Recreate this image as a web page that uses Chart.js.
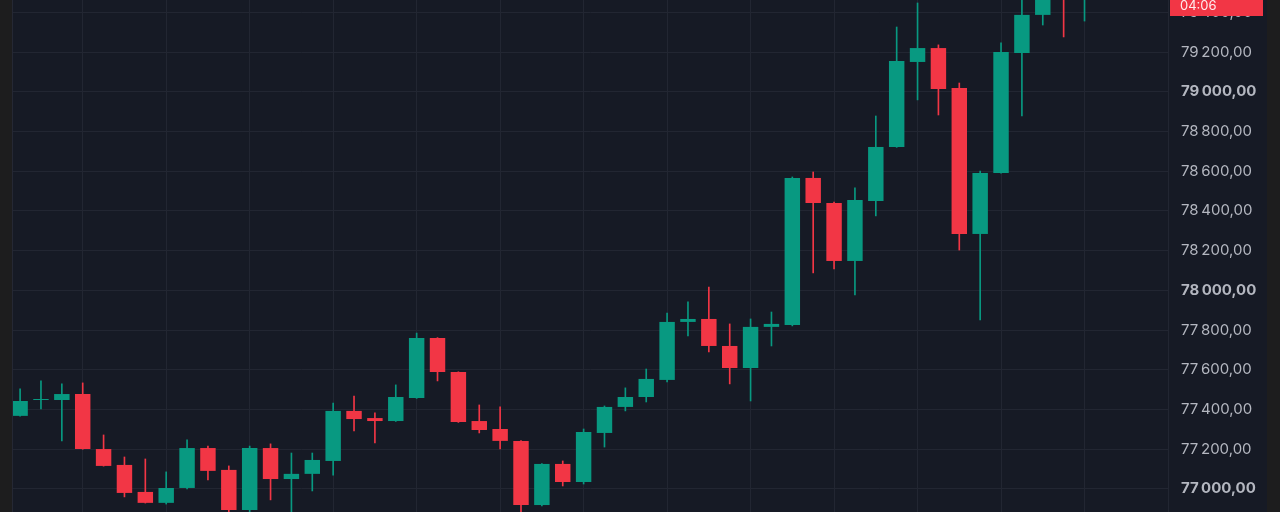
<!DOCTYPE html>
<html>
<head>
<meta charset="utf-8">
<script src="https://cdn.jsdelivr.net/npm/chart.js@4.4.0/dist/chart.umd.min.js"></script>
<style>
    html, body { margin:0; padding:0; width:1280px; height:512px; overflow:hidden; background:#1d1d1e; }
    #wrap { position:absolute; left:12px; top:0; width:1255px; height:512px; background:#161a25; border-left:1px solid #252834; box-sizing:border-box; }
    #candle_graph { display:block; }
</style>
</head>
<body>
<div id="wrap"><canvas id="candle_graph" width="1254" height="512"></canvas></div>
<script>
// candle index (no time labels visible in the picture)
const candle_labels = [ 0, 1, 2, 3, 4, 5, 6, 7, 8, 9,10,11,12,13,14,15,16,17,18,19,20,21,22,23,24,25,
                       26,27,28,29,30,31,32,33,34,35,36,37,38,39,40,41,42,43,44,45,46,47,48,49,50,51];

const open_prices  = [77368, 77448, 77448, 77478, 77201, 77121, 76985, 76930, 77005, 77206,
                      77096, 76894, 77206, 77050, 77076, 77141, 77393, 77357, 77342, 77458,
                      77760, 77589, 77342, 77302, 77242, 76919, 77126, 77035, 77282, 77413,
                      77463, 77549, 77841, 77856, 77720, 77609, 77816, 77826, 78566, 78440,
                      78148, 78450, 78722, 79150, 79220, 79019, 78284, 78591, 79195, 79387,
                      79610, 79490];
const high_prices  = [77504, 77544, 77529, 77534, 77272, 77161, 77151, 77086, 77247, 77216,
                      77116, 77216, 77227, 77181, 77181, 77433, 77468, 77383, 77524, 77785,
                      77762, 77590, 77423, 77413, 77244, 77128, 77141, 77302, 77418, 77509,
                      77604, 77886, 77942, 78017, 77831, 77856, 77891, 78571, 78596, 78445,
                      78516, 78878, 79326, 79447, 79236, 79044, 78601, 79246, 79487, 79510,
                      79640, 79620];
const low_prices   = [77366, 77403, 77242, 77200, 77115, 76960, 76929, 76924, 77000, 77045,
                      76880, 76884, 76945, 76874, 76990, 77070, 77292, 77232, 77340, 77456,
                      77544, 77335, 77282, 77201, 76884, 76914, 77015, 77025, 77211, 77393,
                      77438, 77539, 77770, 77690, 77529, 77443, 77720, 77821, 78088, 78108,
                      77977, 78375, 78720, 78959, 78883, 78203, 77851, 78590, 78878, 79336,
                      79276, 79356];
const close_prices = [77443, 77453, 77478, 77201, 77116, 76980, 76930, 77005, 77206, 77091,
                      76894, 77206, 77050, 77076, 77146, 77393, 77352, 77342, 77463, 77760,
                      77589, 77337, 77297, 77242, 76919, 77126, 77035, 77287, 77413, 77463,
                      77554, 77841, 77856, 77720, 77609, 77816, 77831, 78566, 78440, 78148,
                      78455, 78722, 79155, 79220, 79014, 78284, 78591, 79200, 79387, 79477,
                      79500, 79580];

// price axis ticks
const y_tick_values = [77000, 77200, 77400, 77600, 77800, 78000, 78200, 78400, 78600, 78800, 79000, 79200, 79400];
// vertical grid every 4 candles
const x_grid_values = [3, 7, 11, 15, 19, 23, 27, 31, 35, 39, 43, 47, 51, 55];

const countdown_text = "04:06";

window.addEventListener("load", function (){
    draw_candle_graph();
});


function format_price(v){
    let s = Math.round(v).toString();
    //thousands separator is a narrow space, decimals with comma
    return s.slice(0, s.length - 3) + "\u202F" + s.slice(s.length - 3) + ",00";
}


function draw_candle_graph(){

    const up_color   = "#089981";
    const down_color = "#f23645";

    let bodies  = [];
    let wicks   = [];
    let colors  = [];

    for (let i=0;i<candle_labels.length;i++){
        bodies.push({x: candle_labels[i], y: [open_prices[i], close_prices[i]]});
        wicks.push({x: candle_labels[i], y: [low_prices[i], high_prices[i]]});
        colors.push(close_prices[i] >= open_prices[i] ? up_color : down_color);
    }

    //red countdown box at the top right
    const countdown_plugin = {
        id: "countdown",
        afterDraw(chart){
            const c = chart.ctx;
            c.save();
            c.fillStyle = down_color;
            c.fillRect(1157, -20, 93, 36);
            c.fillStyle = "#ffecee";
            c.font = "13px Inter";
            c.textBaseline = "alphabetic";
            c.fillText(countdown_text, 1167, 10);
            c.restore();
        }
    };

    const ctx       = document.getElementById('candle_graph').getContext('2d');
    const myChart   = new Chart(ctx, {
        type: 'bar',
        data: {
            datasets: [{
                label: "body",
                data: bodies,
                backgroundColor: colors,
                borderWidth: 0,
                grouped: false,
                barPercentage: 0.74,
                categoryPercentage: 1.0,
                clip: 0,
            },{
                label: "wick",
                data: wicks,
                backgroundColor: colors,
                borderWidth: 0,
                grouped: false,
                barThickness: 1,
                clip: 0,
            }]
        },
        options: {
            responsive: false,
            animation: false,
            events: [],
            layout: { padding: 0 },
            plugins: {
                legend: { display: false },
                tooltip: { enabled: false },
            },
            scales: {
                x: {
                    type: 'linear',
                    min: -0.34,
                    max: 55.0,
                    offset: false,
                    border: { display: false },
                    grid: { color: "#222632", drawTicks: false, offset: false },
                    ticks: { display: false },
                    afterBuildTicks: function (scale){
                        scale.ticks = x_grid_values.map(v => ({value: v}));
                    },
                    afterFit: function (scale){
                        scale.height = 0;
                        scale.paddingLeft = 0;
                        scale.paddingRight = 0;
                    },
                },
                y: {
                    position: 'right',
                    min: 76884,
                    max: 79462,
                    border: { display: false },
                    grid: { color: "#222632", drawTicks: false },
                    ticks: {
                        color: "#b4b7c0",
                        padding: 13,
                        font: function (c){
                            let bold = c.tick && c.tick.value % 1000 === 0;
                            return { family: "Inter", size: 15, weight: bold ? "bold" : "normal" };
                        },
                        callback: function (v){ return format_price(v); },
                    },
                    afterBuildTicks: function (scale){
                        scale.ticks = y_tick_values.map(v => ({value: v}));
                    },
                    afterFit: function (scale){
                        scale.width = 99;
                        scale.paddingTop = 0;
                        scale.paddingBottom = 0;
                    },
                }
            }
        },
        plugins: [countdown_plugin]
    });
}
</script>
</body>
</html>
